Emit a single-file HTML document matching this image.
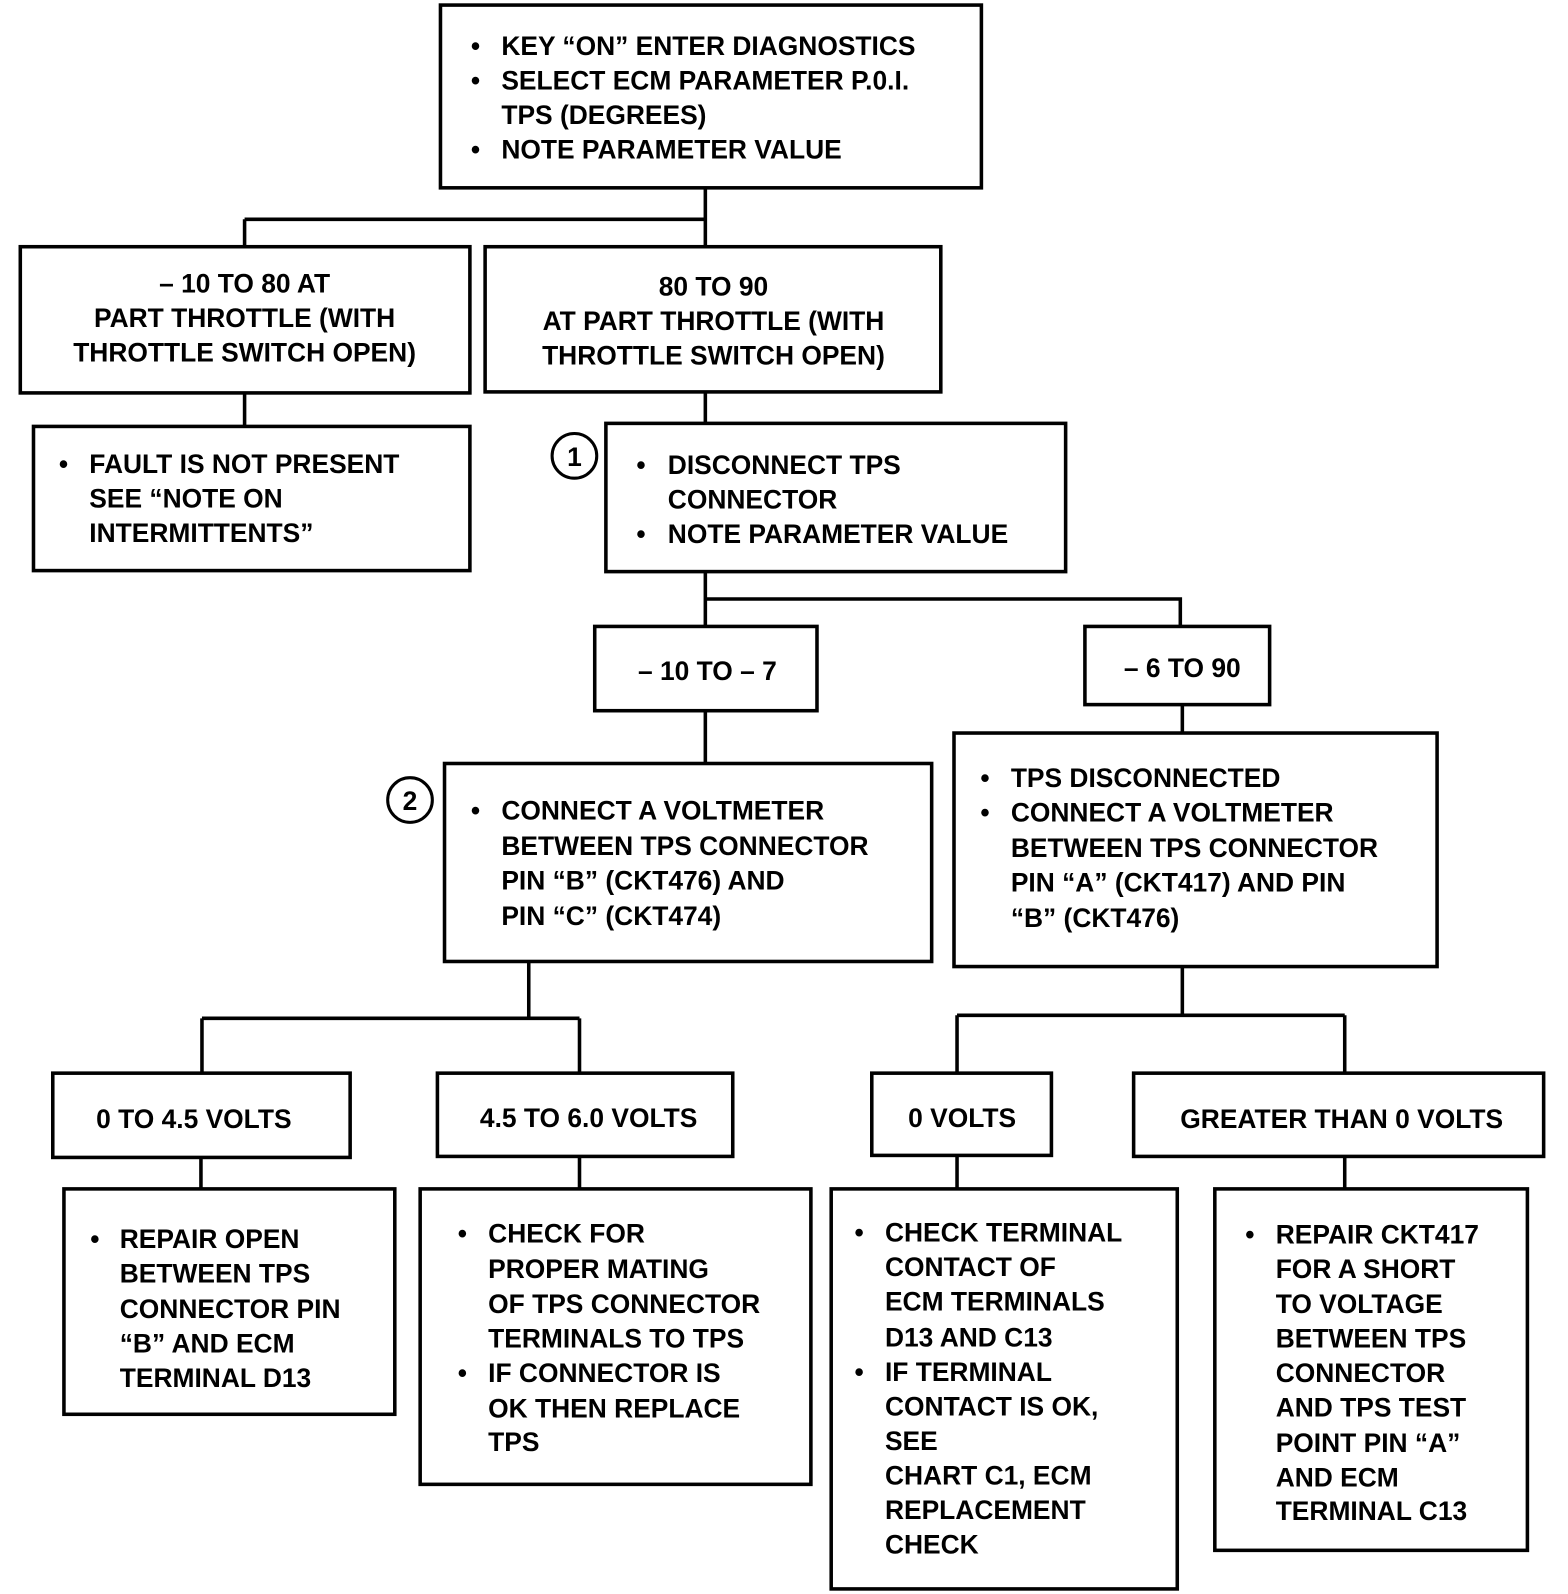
<!DOCTYPE html>
<html><head><meta charset="utf-8"><style>
html,body{margin:0;padding:0;background:#fff;}
svg{display:block;}
text{font-family:"Liberation Sans",Arial,sans-serif;font-weight:bold;font-size:26px;fill:#000;}
rect{fill:none;stroke:#000;stroke-width:3.5;}
line,path{stroke:#000;stroke-width:3.5;fill:none;}
</style></head><body>
<svg width="1568" height="1594" viewBox="0 0 1545 1570" preserveAspectRatio="none" xmlns="http://www.w3.org/2000/svg">
<!-- connectors -->
<path d="M695 185V216M241 216H695M241 216V243M695 216V243"/>
<path d="M241 387V420M695 386V417"/>
<path d="M695 563V617M695 590H1163V617"/>
<path d="M695 700V752M1165 694V722"/>
<path d="M521 947V1003M199 1003H571M199 1003V1057M571 1003V1057"/>
<path d="M1165 952V1000M943 1000H1325M943 1000V1057M1325 1000V1057"/>
<path d="M198 1140V1171M571 1139V1171M943 1138V1171M1325 1139V1171"/>
<!-- boxes -->
<rect x="434" y="5" width="533" height="180"/>
<rect x="20" y="243" width="443" height="144"/>
<rect x="478" y="243" width="449" height="143"/>
<rect x="33" y="420" width="430" height="142"/>
<rect x="597" y="417" width="453" height="146"/>
<rect x="586" y="617" width="219" height="83"/>
<rect x="1069" y="617" width="182" height="77"/>
<rect x="438" y="752" width="480" height="195"/>
<rect x="940" y="722" width="476" height="230"/>
<rect x="52" y="1057" width="293" height="83"/>
<rect x="431" y="1057" width="291" height="82"/>
<rect x="859" y="1057" width="177" height="81"/>
<rect x="1117" y="1057" width="404" height="82"/>
<rect x="63" y="1171" width="326" height="222"/>
<rect x="414" y="1171" width="385" height="291"/>
<rect x="819" y="1171" width="341" height="394"/>
<rect x="1197" y="1171" width="308" height="356"/>
<circle cx="566" cy="449" r="22" fill="none" stroke="#000" stroke-width="3"/>
<text x="566" y="459" text-anchor="middle">1</text>
<circle cx="404" cy="788" r="22" fill="none" stroke="#000" stroke-width="3"/>
<text x="404" y="798" text-anchor="middle">2</text>
<!-- top -->
<g>
<text x="464" y="54">•</text><text x="494" y="54">KEY “ON” ENTER DIAGNOSTICS</text>
<text x="464" y="88">•</text><text x="494" y="88">SELECT ECM PARAMETER P.0.I.</text>
<text x="494" y="122">TPS (DEGREES)</text>
<text x="464" y="156">•</text><text x="494" y="156">NOTE PARAMETER VALUE</text>
</g>
<g text-anchor="middle">
<text x="241" y="288">– 10 TO 80 AT</text>
<text x="241" y="322">PART THROTTLE (WITH</text>
<text x="241" y="356">THROTTLE SWITCH OPEN)</text>
<text x="703" y="291">80 TO 90</text>
<text x="703" y="325">AT PART THROTTLE (WITH</text>
<text x="703" y="359">THROTTLE SWITCH OPEN)</text>
<text x="697" y="670">– 10 TO  – 7</text>
<text x="1165" y="667">– 6 TO 90</text>
<text x="191" y="1111">0 TO 4.5 VOLTS</text>
<text x="580" y="1110">4.5 TO 6.0 VOLTS</text>
<text x="948" y="1110">0 VOLTS</text>
<text x="1322" y="1111">GREATER THAN 0 VOLTS</text>
</g>
<text x="58" y="466">•</text><text x="88" y="466">FAULT IS NOT PRESENT</text>
<text x="88" y="500">SEE “NOTE ON</text>
<text x="88" y="534">INTERMITTENTS”</text>
<text x="627" y="467">•</text><text x="658" y="467">DISCONNECT TPS</text>
<text x="658" y="501">CONNECTOR</text>
<text x="627" y="535">•</text><text x="658" y="535">NOTE PARAMETER VALUE</text>
<text x="464" y="807">•</text><text x="494" y="807">CONNECT A VOLTMETER</text>
<text x="494" y="842">BETWEEN TPS CONNECTOR</text>
<text x="494" y="876">PIN “B” (CKT476) AND</text>
<text x="494" y="911">PIN “C” (CKT474)</text>
<text x="966" y="775">•</text><text x="996" y="775">TPS DISCONNECTED</text>
<text x="966" y="809">•</text><text x="996" y="809">CONNECT A VOLTMETER</text>
<text x="996" y="844">BETWEEN TPS CONNECTOR</text>
<text x="996" y="878">PIN “A” (CKT417) AND PIN</text>
<text x="996" y="913">“B” (CKT476)</text>
<text x="89" y="1229">•</text><text x="118" y="1229">REPAIR OPEN</text>
<text x="118" y="1263">BETWEEN TPS</text>
<text x="118" y="1298">CONNECTOR PIN</text>
<text x="118" y="1332">“B” AND ECM</text>
<text x="118" y="1366">TERMINAL D13</text>
<text x="451" y="1224">•</text><text x="481" y="1224">CHECK FOR</text>
<text x="481" y="1259">PROPER MATING</text>
<text x="481" y="1293">OF TPS CONNECTOR</text>
<text x="481" y="1327">TERMINALS TO TPS</text>
<text x="451" y="1361">•</text><text x="481" y="1361">IF CONNECTOR IS</text>
<text x="481" y="1396">OK THEN REPLACE</text>
<text x="481" y="1429">TPS</text>
<text x="842" y="1223">•</text><text x="872" y="1223">CHECK TERMINAL</text>
<text x="872" y="1257">CONTACT OF</text>
<text x="872" y="1291">ECM TERMINALS</text>
<text x="872" y="1326">D13 AND C13</text>
<text x="842" y="1360">•</text><text x="872" y="1360">IF TERMINAL</text>
<text x="872" y="1394">CONTACT IS OK,</text>
<text x="872" y="1428">SEE</text>
<text x="872" y="1462">CHART C1, ECM</text>
<text x="872" y="1496">REPLACEMENT</text>
<text x="872" y="1530">CHECK</text>
<text x="1227" y="1225">•</text><text x="1257" y="1225">REPAIR CKT417</text>
<text x="1257" y="1259">FOR A SHORT</text>
<text x="1257" y="1293">TO VOLTAGE</text>
<text x="1257" y="1327">BETWEEN TPS</text>
<text x="1257" y="1361">CONNECTOR</text>
<text x="1257" y="1395">AND TPS TEST</text>
<text x="1257" y="1430">POINT PIN “A”</text>
<text x="1257" y="1464">AND ECM</text>
<text x="1257" y="1497">TERMINAL C13</text>
</svg>
</body></html>
